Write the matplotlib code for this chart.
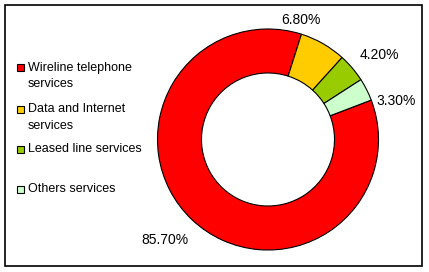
import matplotlib.pyplot as plt
from matplotlib.patches import Rectangle

categories = ["Wireline telephone\nservices", "Data and Internet\nservices",
              "Leased line services", "Others services"]
shares = [85.7, 6.8, 4.2, 3.3]
pct_labels = ["85.70%", "6.80%", "4.20%", "3.30%"]

colors = ["#FF0000", "#FFCC00", "#99CC00", "#CCFFCC"]
# label anchor points in pixel space (x, y from top)
label_pos = [(165, 240), (301, 20), (379, 55), (396, 101)]
# legend rows: first-line centre y (from top)
legend_y = [67, 109, 149, 189]

W, H = 429, 272
plt.rcParams["font.family"] = ["Liberation Sans", "DejaVu Sans"]

fig = plt.figure(figsize=(W / 100, H / 100), dpi=100)
ax = fig.add_axes([0, 0, 1, 1])

wedges, _ = ax.pie(
    shares,
    colors=colors,
    startangle=20.9,
    counterclock=False,
    center=(268, H - 139.5),
    radius=110.5,
    wedgeprops=dict(width=44, edgecolor="black", linewidth=0.8),
)

for txt, (x, y) in zip(pct_labels, label_pos):
    ax.text(x, H - y, txt, ha="center", va="center", fontsize=10)

ax.set_xlim(0, W)
ax.set_ylim(0, H)
ax.set_aspect("equal")
ax.axis("off")

# outer chart border
ax.add_patch(Rectangle((5, H - 266), 417, 261, fill=False, edgecolor="black",
                       linewidth=1.2))

# legend, drawn by hand to match the spacing
for name, c, y in zip(categories, colors, legend_y):
    ax.add_patch(Rectangle((17, H - y - 3.5), 7, 7, facecolor=c,
                           edgecolor="black", linewidth=0.8))
    ax.text(28, H - y + 5.5, name, ha="left", va="top", fontsize=9,
            linespacing=1.45)

fig.savefig("out.png", dpi=100)
